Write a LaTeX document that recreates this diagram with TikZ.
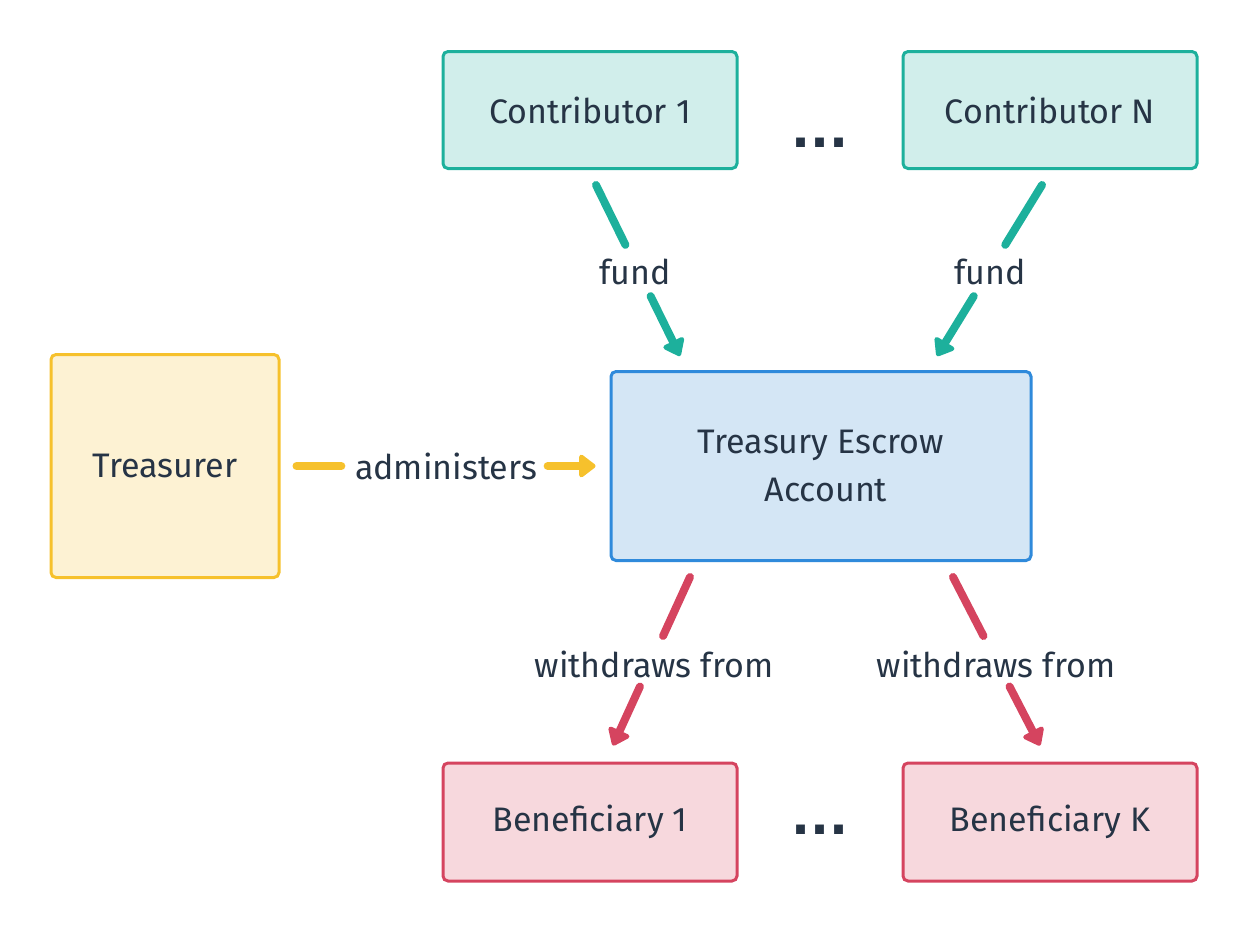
\documentclass[tikz,border=0pt]{standalone}
\usepackage{fontspec}
\setmainfont{Fira Sans}
\newfontfamily\dotfont{DejaVu Sans}
\usetikzlibrary{arrows.meta,calc}
\definecolor{txt}{HTML}{263445}
\definecolor{tealS}{HTML}{1DB09C}
\definecolor{tealF}{HTML}{D1EEEB}
\definecolor{blueS}{HTML}{2F8ADB}
\definecolor{blueF}{HTML}{D4E6F5}
\definecolor{yelS}{HTML}{F6C12C}
\definecolor{yelF}{HTML}{FDF2D3}
\definecolor{redS}{HTML}{D5445F}
\definecolor{redF}{HTML}{F7D8DD}
\tikzset{
  x=1pt,y=-1pt,
  box/.style={draw, line width=3pt, rounded corners=5pt, inner sep=0pt, text=txt,
    font=\fontsize{34}{48}\selectfont, align=center},
  contrib/.style={box, draw=tealS, fill=tealF, minimum width=294pt, minimum height=117pt},
  benef/.style={box, draw=redS, fill=redF, minimum width=294pt, minimum height=118pt},
  escrow/.style={box, draw=blueS, fill=blueF, minimum width=420pt, minimum height=189pt},
  treas/.style={box, draw=yelS, fill=yelF, minimum width=228pt, minimum height=223pt},
  lbl/.style={text=txt, font=\fontsize{34}{36}\selectfont, inner sep=4pt, anchor=center},
  seg/.style={line width=8pt, line cap=round},
  arr/.style={seg, -{Triangle[length=18pt,width=26pt,round]}},
  dots/.style={text=txt, font=\dotfont\bfseries\fontsize{50}{50}\selectfont, inner sep=0pt},
}
\begin{document}
\begin{tikzpicture}
\useasboundingbox (0,0) rectangle (1248,932);
\node[contrib] (c1) at (590,110) {Contributor 1};
\node[contrib] (cn) at (1050,110) {Contributor N};
\node[escrow] (esc) at (821,466) {Treasury Escrow\\\hspace*{10pt}Account};
\node[treas] (tr) at (165,466) {Treasurer};
\node[benef] (b1) at (590,822) {Beneficiary 1};
\node[benef] (bk) at (1050,822) {Beneficiary K};
\node[dots] (d1) at (820,143) {...};
\node[dots] (d2) at (820,830) {...};

\coordinate (f1s) at ($(c1.south)+(6,15)$);
\coordinate (f1e) at ($(esc.north)+(-141,-14)$);
\coordinate (fns) at ($(cn.south)+(-8,15)$);
\coordinate (fne) at ($(esc.north)+(116,-14)$);
\coordinate (ads) at ($(tr.east)+(16,0)$);
\coordinate (ade) at ($(esc.west)+(-14,0)$);
\coordinate (w1s) at ($(esc.south)+(-131,15)$);
\coordinate (w1e) at ($(b1.north)+(23,-16)$);
\coordinate (wks) at ($(esc.south)+(132,15)$);
\coordinate (wke) at ($(bk.north)+(-10,-16)$);

\node[lbl] (lf1) at (635,272) {fund};
\node[lbl] (lfn) at (990,272) {fund};
\node[lbl] (lad) at (446,466) {administers};
\node[lbl] (lw1) at (654,664) {withdraws from};
\node[lbl] (lwk) at (996,664) {withdraws from};

\draw[seg, tealS] (f1s) -- ($(f1s)!0.35!(f1e)$);
\draw[arr, tealS] ($(f1s)!0.65!(f1e)$) -- (f1e);
\draw[seg, tealS] (fns) -- ($(fns)!0.35!(fne)$);
\draw[arr, tealS] ($(fns)!0.65!(fne)$) -- (fne);
\draw[seg, yelS] (ads) -- ($(ads)!0.15!(ade)$);
\draw[arr, yelS] ($(ads)!0.84!(ade)$) -- (ade);
\draw[seg, redS] (w1s) -- ($(w1s)!0.35!(w1e)$);
\draw[arr, redS] ($(w1s)!0.65!(w1e)$) -- (w1e);
\draw[seg, redS] (wks) -- ($(wks)!0.35!(wke)$);
\draw[arr, redS] ($(wks)!0.65!(wke)$) -- (wke);
\end{tikzpicture}
\end{document}
